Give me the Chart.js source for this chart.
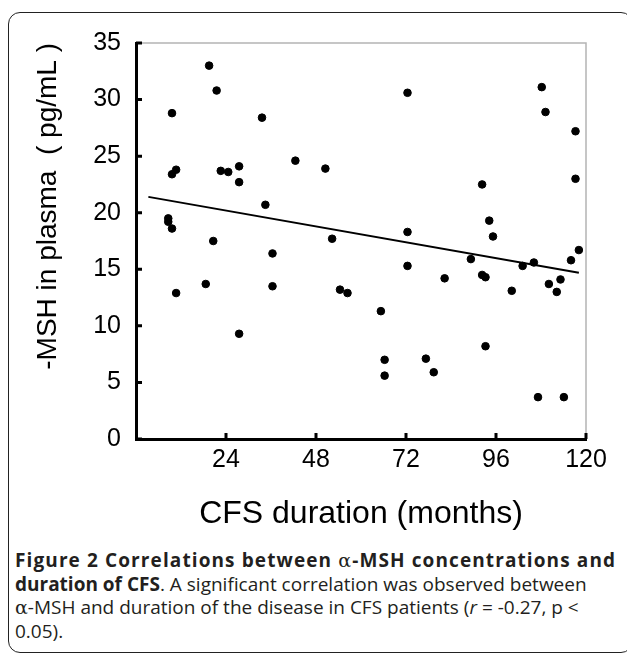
<!DOCTYPE html>
<html>
<head>
<meta charset="utf-8">
<script src="https://cdn.jsdelivr.net/npm/chart.js@4.4.1/dist/chart.umd.min.js"></script>
<style>
  html, body { margin: 0; padding: 0; background: #fff; width: 627px; height: 655px; overflow: hidden; }
  #frame { position: absolute; left: 8px; top: 12px; width: 625px; height: 641px; border: 1.5px solid #222; border-radius: 12px; box-sizing: border-box; }
  #wrap { position: absolute; left: 0; top: 0; width: 627px; height: 545px; }
  #cap { position: absolute; left: 15px; top: 549px; width: 600px; font-family: "Open Sans", "Noto Sans", sans-serif; font-size: 19px; line-height: 23.5px; color: #231f20; }
  #cap div { white-space: nowrap; }
  #l1 { display: inline-block; }
  .greek { font-family: "DejaVu Serif", "Liberation Serif", serif; font-weight: normal; }
</style>
</head>
<body>
<div id="frame"></div>
<div id="wrap"><canvas id="c" width="627" height="545"></canvas></div>
<div id="cap">
  <div><span id="l1"><b>Figure 2 Correlations between <span class="greek">α</span>-MSH concentrations and</b></span></div>
  <div id="l2"><b>duration of CFS</b>. A significant correlation was observed between</div>
  <div id="l3"><span class="greek">α</span>-MSH and duration of the disease in CFS patients (<i>r</i> = -0.27, p &lt;</div>
  <div>0.05).</div>
</div>
<script>
// CFS duration (months) for each patient
const durationMonths = [19.5, 21.5, 9.6, 33.6, 42.5, 50.5, 27.5, 22.6, 24.6, 10.7,
  9.6, 27.5, 34.5, 8.6, 8.6, 9.6, 20.6, 52.3, 36.4, 18.6,
  36.4, 10.7, 54.4, 56.4, 27.5, 72.4, 108.2, 109.2, 117.2, 117.2,
  92.3, 94.2, 95.2, 72.4, 118.1, 89.3, 103.1, 106.1, 116, 72.4,
  82.3, 92.3, 93.2, 100.2, 110.1, 113.2, 112.2, 65.3, 93.2, 66.3,
  77.3, 66.3, 79.4, 107.2, 114.1];
// alpha-MSH in plasma (pg/mL)
const mshValues = [33.0, 30.8, 28.8, 28.4, 24.6, 23.9, 24.1, 23.7, 23.6, 23.8,
  23.4, 22.7, 20.7, 19.5, 19.2, 18.6, 17.5, 17.7, 16.4, 13.7,
  13.5, 12.9, 13.2, 12.9, 9.3, 30.6, 31.1, 28.9, 27.2, 23.0,
  22.5, 19.3, 17.9, 18.3, 16.7, 15.9, 15.3, 15.6, 15.8, 15.3,
  14.2, 14.5, 14.3, 13.1, 13.7, 14.1, 13.0, 11.3, 8.2, 7.0,
  7.1, 5.6, 5.9, 3.7, 3.7];
// regression line end points
const trendX = [3.3, 118.1];
const trendY = [21.4, 14.7];
// axis ticks
const xTicks = [0, 24, 48, 72, 96, 120];
const yTicks = [0, 5, 10, 15, 20, 25, 30, 35];

// fit caption line 1 to its width in the reference (spacing only)
function fitLine(el, target) {
  const w = el.getBoundingClientRect().width;
  const n = el.textContent.length;
  if (n > 1) el.style.letterSpacing = ((target - w) / (n - 1)) + 'px';
}
fitLine(document.getElementById('l1'), 600);

const scatterData = durationMonths.map((x, i) => ({ x: x, y: mshValues[i] }));
const trendData = trendX.map((x, i) => ({ x: x, y: trendY[i] }));

const framePlugin = {
  id: 'framePlugin',
  beforeDatasetsDraw(chart) {
    const { ctx, chartArea: a } = chart;
    ctx.save();
    ctx.strokeStyle = '#b4b4b4';
    ctx.lineWidth = 1.5;
    ctx.beginPath();
    ctx.moveTo(a.left, a.top);
    ctx.lineTo(a.right, a.top);
    ctx.lineTo(a.right, a.bottom);
    ctx.stroke();
    ctx.restore();
  },
  afterDraw(chart) {
    const { ctx, chartArea: a, scales } = chart;
    ctx.save();
    ctx.strokeStyle = '#000';
    ctx.lineWidth = 3;
    ctx.beginPath();
    yTicks.forEach(v => {
      const y = scales.y.getPixelForValue(v);
      ctx.moveTo(a.left, y);
      ctx.lineTo(a.left + 6, y);
    });
    xTicks.forEach(v => {
      if (v === 0) return;
      const x = scales.x.getPixelForValue(v);
      ctx.moveTo(x, a.bottom);
      ctx.lineTo(x, a.bottom - 6);
    });
    ctx.stroke();
    ctx.restore();
  }
};

new Chart(document.getElementById('c'), {
  type: 'scatter',
  data: {
    datasets: [
      {
        data: scatterData,
        backgroundColor: '#000',
        borderColor: '#000',
        pointRadius: 3.8,
        pointHoverRadius: 3.8,
        showLine: false
      },
      {
        type: 'line',
        data: trendData,
        borderColor: '#000',
        borderWidth: 2,
        pointRadius: 0,
        fill: false,
        tension: 0
      }
    ]
  },
  options: {
    responsive: false,
    animation: false,
    events: [],
    layout: { padding: { left: 20, top: 43, right: 41, bottom: 0 } },
    plugins: { legend: { display: false }, tooltip: { enabled: false } },
    scales: {
      x: {
        type: 'linear',
        min: 0, max: 120,
        afterBuildTicks: s => { s.ticks = xTicks.map(v => ({ value: v })); },
        afterFit: s => { s.height = 106; },
        grid: { display: true, drawOnChartArea: false, drawTicks: false },
        border: { display: true, color: '#000', width: 3 },
        ticks: {
          padding: 6,
          color: '#000',
          font: { family: 'Liberation Sans, Arial, sans-serif', size: 25 },
          callback: v => (v === 0 ? '' : String(v))
        },
        title: {
          display: true,
          text: 'CFS duration (months)',
          color: '#000',
          font: { family: 'Liberation Sans, Arial, sans-serif', size: 32 },
          padding: { top: 0, bottom: 12 }
        }
      },
      y: {
        type: 'linear',
        min: 0, max: 35,
        afterBuildTicks: s => { s.ticks = yTicks.map(v => ({ value: v })); },
        afterFit: s => { s.width = 116; },
        grid: { display: true, drawOnChartArea: false, drawTicks: false },
        border: { display: true, color: '#000', width: 3 },
        ticks: {
          padding: 15,
          color: '#000',
          font: { family: 'Liberation Sans, Arial, sans-serif', size: 25 }
        },
        title: {
          display: true,
          text: '-MSH in plasma  ( pg/mL )',
          align: 'end',
          color: '#000',
          font: { family: 'Liberation Sans, Arial, sans-serif', size: 28 },
          padding: { top: 11, bottom: 0 }
        }
      }
    }
  },
  plugins: [framePlugin]
});
</script>
</body>
</html>
